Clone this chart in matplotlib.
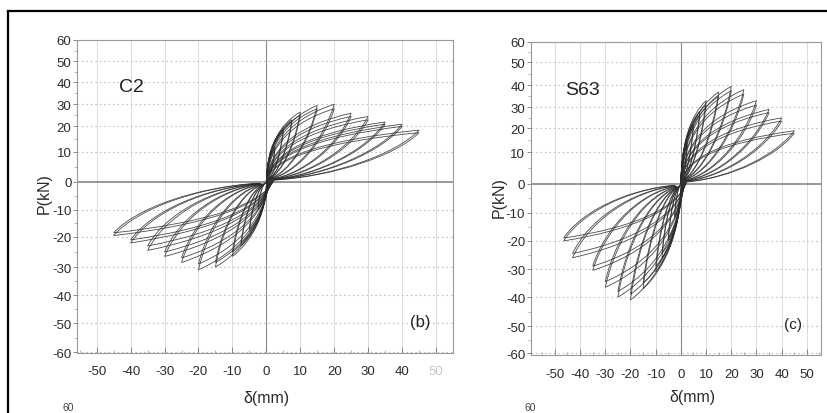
import numpy as np
import matplotlib
matplotlib.use("Agg")
import matplotlib.pyplot as plt
from matplotlib.path import Path
from matplotlib.patches import PathPatch
from matplotlib.lines import Line2D

# ---------------- data ----------------
# Specimen C2 : peak displacement (mm) and peak load (kN) of each loop
c2_disp_pos = [2.5, 5, 7.5, 10, 15, 20, 25, 30, 35, 40, 45]
c2_load_pos_1 = [12, 19, 23, 26.5, 29.5, 30, 26, 24.5, 22, 21, 18.5]
c2_load_pos_2 = [11, 18, 22, 25, 28, 28, 24.5, 23, 21, 20, 17.5]
c2_disp_neg = [-2.5, -5, -7.5, -10, -15, -20, -25, -30, -35, -40, -45]
c2_load_neg_1 = [-10, -18, -23, -26.5, -30, -31, -28.5, -26.5, -24.5, -22, -19.5]
c2_load_neg_2 = [-9, -17, -22, -25, -28.5, -29, -27, -25, -23, -21, -18.5]

# Specimen S63
s63_disp_pos = [2.5, 5, 7.5, 10, 15, 20, 25, 30, 35, 40, 45]
s63_load_pos_1 = [14, 22, 28, 33, 37, 39.5, 38, 33, 29, 25, 19]
s63_load_pos_2 = [13, 21, 26.5, 31, 35, 37.5, 36, 31, 27.5, 23.5, 18]
s63_disp_neg = [-2.5, -5, -7.5, -10, -15, -20, -25, -30, -35, -43, -46.5]
s63_load_neg_1 = [-12, -20, -26, -31, -37, -41, -40, -36.5, -30.5, -26, -20]
s63_load_neg_2 = [-11, -19, -24.5, -29, -35, -39, -38, -34.5, -29, -24.5, -19]

y_ticks = list(range(-60, 61, 10))
x_ticks = list(range(-50, 51, 10))

# scale calibration of the scanned axes (pixel rows of the y tick values)
c2_y_rows = [352, 323, 295, 267, 237, 210, 182, 152, 127, 105, 83, 62, 41]
s63_y_rows = [353, 326, 297, 269, 241, 213, 184, 153, 129, 108, 86, 63, 42.7]

plt.rcParams["font.family"] = ["Liberation Sans", "DejaVu Sans"]
plt.rcParams["axes.unicode_minus"] = False

W, H = 828, 414
fig = plt.figure(figsize=(W / 100, H / 100), dpi=100)
fig.patch.set_facecolor("white")


def piecewise_scale(ticks, rows):
    v = np.asarray(ticks, float)
    p = -np.asarray(rows, float)
    s0 = (p[1] - p[0]) / (v[1] - v[0])
    s1 = (p[-1] - p[-2]) / (v[-1] - v[-2])
    V = np.concatenate([[v[0] - 1e3], v, [v[-1] + 1e3]])
    P = np.concatenate([[p[0] - 1e3 * s0], p, [p[-1] + 1e3 * s1]])

    def fwd(x):
        return np.interp(x, V, P)

    def inv(y):
        return np.interp(y, P, V)

    return fwd, inv


def loop_patch(dp, fp, dn, fn, **kw):
    # one pinched hysteresis cycle drawn as cubic Bezier segments
    verts = [(0, 0),
             (0.03 * dp, 0.45 * fp), (0.4 * dp, 0.8 * fp), (dp, fp),
             (0.85 * dp, 0.5 * fp), (0.45 * dp, 0.1 * fp), (0.05 * dp, 0.03 * fp),
             (0.03 * dn, 0.45 * fn), (0.4 * dn, 0.8 * fn), (dn, fn),
             (0.85 * dn, 0.5 * fn), (0.45 * dn, 0.1 * fn), (0.05 * dn, 0.03 * fn)]
    codes = [Path.MOVETO] + [Path.CURVE4] * 12
    return PathPatch(Path(verts, codes), facecolor="none", **kw)


def make_panel(rect, xlim, ylim, rows, dpos, fpos1, fpos2, dneg, fneg1, fneg2,
               name, name_xy, tag, tag_xy, tag_size, ylab_xy, xlab_xy):
    ax = fig.add_axes(rect)
    fwd, inv = piecewise_scale(y_ticks, rows)
    ax.set_yscale("function", functions=(fwd, inv))
    ax.set_xlim(*xlim)
    ax.set_ylim(*ylim)
    ax.set_xticks(x_ticks)
    ax.set_xticks(np.arange(-55, 56, 5), minor=True)
    ax.set_yticks(y_ticks)
    ax.set_yticks(np.arange(-55, 56, 10), minor=True)

    for x in x_ticks:
        if x != 0:
            ax.axvline(x, color="#d4d6da", lw=0.6, zorder=0)
    for y in y_ticks:
        if y != 0:
            ax.axhline(y, color="#bfc1c5", lw=0.8, ls=(0, (1.5, 2.5)), zorder=0)
    ax.axhline(0, color="#7a7a7a", lw=1.1, zorder=1)
    ax.axvline(0, color="#8a8a8a", lw=0.8, zorder=1)

    for loads, dn_loads in ((fpos1, fneg1), (fpos2, fneg2)):
        for dp, fp, dn, fn in zip(dpos, loads, dneg, dn_loads):
            ax.add_patch(loop_patch(dp, fp, dn, fn, edgecolor="#2b2b2b",
                                    lw=0.6, alpha=0.85, zorder=3))

    for s in ax.spines.values():
        s.set_color("#9a9a9a")
        s.set_linewidth(0.8)
    ax.tick_params(axis="y", which="major", direction="out", length=3,
                   width=0.6, color="#777", labelsize=9.5, labelcolor="#2a2a2a", pad=1)
    ax.tick_params(axis="y", which="minor", direction="out", length=2,
                   width=0.5, color="#999")
    ax.tick_params(axis="x", which="major", direction="in", length=4,
                   width=0.6, color="#777", labelsize=9.5, labelcolor="#2a2a2a", pad=9)
    ax.tick_params(axis="x", which="minor", direction="in", length=2.5,
                   width=0.5, color="#999")

    ax.set_ylabel("P(kN)", fontsize=11.5, color="#2a2a2a")
    ax.yaxis.set_label_coords(*ylab_xy)
    ax.set_xlabel("δ(mm)", fontsize=11.5, color="#2a2a2a")
    ax.xaxis.set_label_coords(*xlab_xy)

    ax.text(*name_xy, name, transform=ax.transAxes, fontsize=14,
            ha="center", va="center", color="#222")
    ax.text(*tag_xy, tag, transform=ax.transAxes, fontsize=tag_size,
            ha="center", va="center", color="#222")
    return ax


ax1 = make_panel([77 / W, 1 - 354 / H, 376 / W, 313 / H], (-55.8, 54.5), (-60.2, 60),
                 c2_y_rows, c2_disp_pos, c2_load_pos_1, c2_load_pos_2,
                 c2_disp_neg, c2_load_neg_1, c2_load_neg_2,
                 "C2", (0.144, 0.85), "(b)", (0.912, 0.102), 12,
                 (-0.066, 0.514), (0.505, -0.117))
ax1.get_xticklabels()[-1].set_color("#c8c8c8")

ax2 = make_panel([530.7 / W, 1 - 356 / H, 290.3 / W, 313.3 / H], (-59.6, 55.6), (-60.6, 60),
                 s63_y_rows, s63_disp_pos, s63_load_pos_1, s63_load_pos_2,
                 s63_disp_neg, s63_load_neg_1, s63_load_neg_2,
                 "S63", (0.177, 0.849), "(c)", (0.904, 0.099), 11,
                 (-0.083, 0.507), (0.556, -0.108))

# scan frame (top and left border) and labels of the next row peeking in
fig.add_artist(Line2D([8 / W, 1.0], [1 - 12 / H, 1 - 12 / H], color="black", lw=1.6))
fig.add_artist(Line2D([8 / W, 8 / W], [1 - 12 / H, 0.0], color="black", lw=1.6))
fig.text(68 / W, 1 - 413 / H, "60", fontsize=7.5, ha="center", va="bottom", color="#444")
fig.text(530 / W, 1 - 413 / H, "60", fontsize=7.5, ha="center", va="bottom", color="#444")

fig.savefig("out.png", dpi=100)
